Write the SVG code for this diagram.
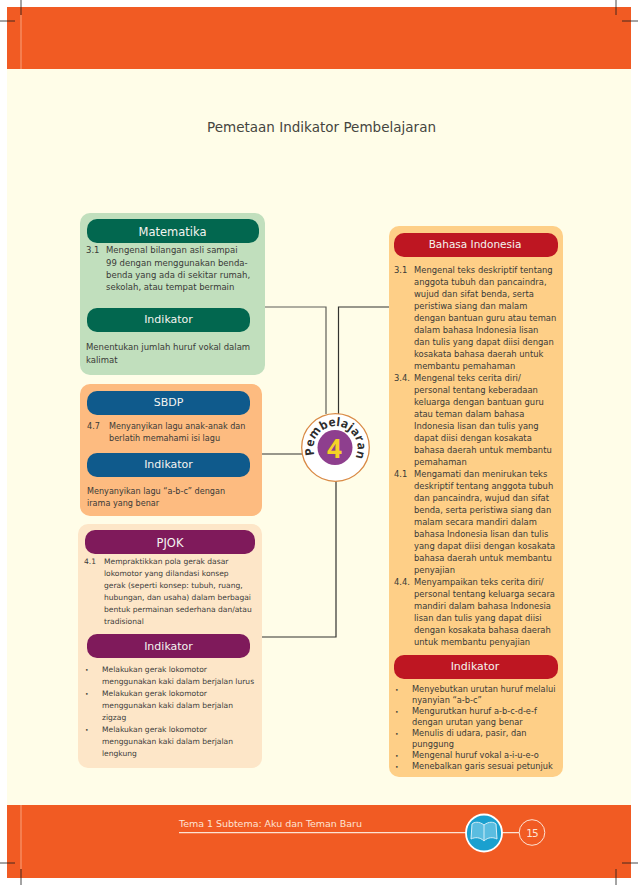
<svg xmlns="http://www.w3.org/2000/svg" width="638" height="885" viewBox="0 0 638 885">
<style>
text{font-family:"DejaVu Sans",sans-serif;fill:#3a3a38}
.b{font-size:8.4px}
.m8{font-size:8.5px}
.d{font-size:8.1px}
.s{font-size:7.55px}
.i{font-size:8.25px}
.u{font-size:6px}
.h{font-size:11px;fill:#f4f4f0;text-anchor:middle}
.c{fill:none;stroke:#5f5f58;stroke-width:1.2}
.k{stroke:#33332f}
.m{fill:none;stroke:#1c1c1c;stroke-width:.8}
</style>
<rect width="638" height="885" fill="#fff"/>
<rect x="7" y="7" width="624" height="871" fill="#fffde8"/>
<g id="bands">
<rect x="7" y="7" width="624" height="62" fill="#f15b23"/>
<rect x="7" y="805" width="624" height="73" fill="#f15b23"/>
<path d="M21 15V69M21 805V869" stroke="#f9a27c" stroke-width="1" fill="none"/>
</g>
<g id="marks">
<path class="m" d="M21 0V15M616 0V15M0 21H15M622 21H638M0 863H15M622 863H638M21 869V885M616 869V885"/>
</g>
<text id="title" x="207" y="132" textLength="229" style="font-size:13.5px;fill:#454540">Pemetaan Indikator Pembelajaran</text>
<g id="connectors">
<path class="c" d="M265 307H326V414"/>
<path class="c k" d="M389 307H338.500V414"/>
<path class="c k" d="M262 454H303"/>
<path class="c k" d="M262 637H336V481"/>
</g>
<g id="matematika">
<rect x="80" y="213" width="185" height="162" rx="10" fill="#c1dfbd"/>
<rect x="87" y="219" width="172" height="24" rx="10" fill="#02674f"/>
<rect x="87" y="308" width="163" height="24" rx="10" fill="#02674f"/>
<text class="h" x="172.500" y="236" style="font-size:11.5px">Matematika</text>
<text class="h" x="168.500" y="323">Indikator</text>
<text class="m8" x="86" y="253">3.1</text>
<text class="m8" x="106" y="253">Mengenal bilangan asli sampai</text>
<text class="m8" x="106" y="265.500">99 dengan menggunakan benda-</text>
<text class="m8" x="106" y="278">benda yang ada di sekitar rumah,</text>
<text class="m8" x="106" y="290">sekolah, atau tempat bermain</text>
<text class="m8" x="86" y="350">Menentukan jumlah huruf vokal dalam</text>
<text class="m8" x="86" y="363">kalimat</text>
</g>
<g id="sbdp">
<rect x="80" y="384" width="182" height="132" rx="10" fill="#fdbb80"/>
<rect x="87" y="391" width="163" height="24" rx="10" fill="#0f5a8c"/>
<rect x="87" y="453" width="163" height="24" rx="10" fill="#0f5a8c"/>
<text class="h" x="168.500" y="406">SBDP</text>
<text class="h" x="168.500" y="468">Indikator</text>
<text class="d" x="87" y="429">4.7</text>
<text class="d" x="109" y="429">Menyanyikan lagu anak-anak dan</text>
<text class="d" x="109" y="441">berlatih memahami isi lagu</text>
<text class="d" x="87" y="494">Menyanyikan lagu “a-b-c” dengan</text>
<text class="d" x="87" y="506">irama yang benar</text>
</g>
<g id="pjok">
<rect x="78" y="524" width="184" height="244" rx="10" fill="#fde6c8"/>
<rect x="85" y="530" width="170" height="24" rx="10" fill="#7f1a5b"/>
<rect x="87" y="634" width="163" height="24" rx="10" fill="#7f1a5b"/>
<text class="h" x="170" y="547" style="font-size:11.5px">PJOK</text>
<text class="h" x="168.500" y="650">Indikator</text>
<text class="s" x="84" y="564">4.1</text>
<text class="s" x="104" y="564">Mempraktikkan pola gerak dasar</text>
<text class="s" x="104" y="576">lokomotor yang dilandasi konsep</text>
<text class="s" x="104" y="588">gerak (seperti konsep: tubuh, ruang,</text>
<text class="s" x="104" y="600">hubungan, dan usaha) dalam berbagai</text>
<text class="s" x="104" y="612">bentuk permainan sederhana dan/atau</text>
<text class="s" x="104" y="624">tradisional</text>
<text class="u" x="85" y="672">•</text>
<text class="s" x="102" y="672">Melakukan gerak lokomotor</text>
<text class="s" x="102" y="684">menggunakan kaki dalam berjalan lurus</text>
<text class="u" x="85" y="696">•</text>
<text class="s" x="102" y="696">Melakukan gerak lokomotor</text>
<text class="s" x="102" y="708">menggunakan kaki dalam berjalan</text>
<text class="s" x="102" y="720">zigzag</text>
<text class="u" x="85" y="732">•</text>
<text class="s" x="102" y="732">Melakukan gerak lokomotor</text>
<text class="s" x="102" y="744">menggunakan kaki dalam berjalan</text>
<text class="s" x="102" y="756">lengkung</text>
</g>
<g id="bahasa">
<rect x="389" y="226" width="174" height="551" rx="10" fill="#fecf87"/>
<rect x="394" y="233" width="164" height="24" rx="10" fill="#be1622"/>
<rect x="394" y="655" width="164" height="24" rx="10" fill="#be1622"/>
<text class="h" x="475" y="248" style="font-size:10.500px">Bahasa Indonesia</text>
<text class="h" x="475" y="670">Indikator</text>
<text class="b" x="394" y="273.300">3.1</text>
<text class="b" x="414" y="273.300">Mengenal teks deskriptif tentang</text>
<text class="b" x="414" y="285.300">anggota tubuh dan pancaindra,</text>
<text class="b" x="414" y="297.300">wujud dan sifat benda, serta</text>
<text class="b" x="414" y="309.300">peristiwa siang dan malam</text>
<text class="b" x="414" y="321.300">dengan bantuan guru atau teman</text>
<text class="b" x="414" y="333.300">dalam bahasa Indonesia lisan</text>
<text class="b" x="414" y="345.300">dan tulis yang dapat diisi dengan</text>
<text class="b" x="414" y="357.300">kosakata bahasa daerah untuk</text>
<text class="b" x="414" y="369.300">membantu pemahaman</text>
<text class="b" x="394" y="381.300">3.4.</text>
<text class="b" x="414" y="381.300">Mengenal teks cerita diri/</text>
<text class="b" x="414" y="393.300">personal tentang keberadaan</text>
<text class="b" x="414" y="405.300">keluarga dengan bantuan guru</text>
<text class="b" x="414" y="417.300">atau teman dalam bahasa</text>
<text class="b" x="414" y="429.300">Indonesia lisan dan tulis yang</text>
<text class="b" x="414" y="441.300">dapat diisi dengan kosakata</text>
<text class="b" x="414" y="453.300">bahasa daerah untuk membantu</text>
<text class="b" x="414" y="465.300">pemahaman</text>
<text class="b" x="394" y="477.300">4.1</text>
<text class="b" x="414" y="477.300">Mengamati dan menirukan teks</text>
<text class="b" x="414" y="489.300">deskriptif tentang anggota tubuh</text>
<text class="b" x="414" y="501.300">dan pancaindra, wujud dan sifat</text>
<text class="b" x="414" y="513.300">benda, serta peristiwa siang dan</text>
<text class="b" x="414" y="525.300">malam secara mandiri dalam</text>
<text class="b" x="414" y="537.300">bahasa Indonesia lisan dan tulis</text>
<text class="b" x="414" y="549.300">yang dapat diisi dengan kosakata</text>
<text class="b" x="414" y="561.300">bahasa daerah untuk membantu</text>
<text class="b" x="414" y="573.300">penyajian</text>
<text class="b" x="394" y="585.300">4.4.</text>
<text class="b" x="414" y="585.300">Menyampaikan teks cerita diri/</text>
<text class="b" x="414" y="597.300">personal tentang keluarga secara</text>
<text class="b" x="414" y="609.300">mandiri dalam bahasa Indonesia</text>
<text class="b" x="414" y="621.300">lisan dan tulis yang dapat diisi</text>
<text class="b" x="414" y="633.300">dengan kosakata bahasa daerah</text>
<text class="b" x="414" y="645.300">untuk membantu penyajian</text>
<text class="u" x="395" y="692">•</text>
<text class="i" x="412" y="692">Menyebutkan urutan huruf melalui</text>
<text class="i" x="412" y="703">nyanyian “a-b-c”</text>
<text class="u" x="395" y="714">•</text>
<text class="i" x="412" y="714">Mengurutkan huruf a-b-c-d-e-f</text>
<text class="i" x="412" y="724.500">dengan urutan yang benar</text>
<text class="u" x="395" y="735.500">•</text>
<text class="i" x="412" y="735.500">Menulis di udara, pasir, dan</text>
<text class="i" x="412" y="746.500">punggung</text>
<text class="u" x="395" y="757.500">•</text>
<text class="i" x="412" y="757.500">Mengenal huruf vokal a-i-u-e-o</text>
<text class="u" x="395" y="768.500">•</text>
<text class="i" x="412" y="768.500">Menebalkan garis sesuai petunjuk</text>
</g>
<g id="pembelajaran">
<circle cx="335.500" cy="447.500" r="33.800" fill="#fff" stroke="#d98a45" stroke-width="1.300"/>
<circle cx="335" cy="447.500" r="17.500" fill="#8e3f8e"/>
<path id="arc" d="M314.600 455A22 22 0 1 1 356.400 455" fill="none"/>
<text style="font-size:12px;font-weight:bold;fill:#2c2c2c;font-family:'Open Sans','DejaVu Sans',sans-serif" letter-spacing=".2"><textPath href="#arc">Pembelajaran</textPath></text>
<text x="334.500" y="458" text-anchor="middle" style="font-size:26px;font-weight:bold;fill:#f5d327;font-family:'Open Sans','DejaVu Sans',sans-serif">4</text>
</g>
<g id="footer">
<text x="179" y="827" textLength="183" style="font-size:9.500px;fill:#fde3d4">Tema 1 Subtema: Aku dan Teman Baru</text>
<path d="M179 832.700H520" stroke="#fde3d4" stroke-width="1.300" fill="none"/>
<ellipse cx="484" cy="833" rx="18" ry="18.500" fill="#1aa0cf" stroke="#fff" stroke-width="1.800"/>
<path d="M484 825C479 821 474 822 472 824L471 839C475 837 480 837 484 841C488 837 493 837 497 839L496 824C494 822 489 821 484 825ZM484 825V841" fill="#5bbde0" stroke="#d3eef8" stroke-width="1"/>
<circle cx="532" cy="832.500" r="12.800" fill="#f15b23" stroke="#fde3d4" stroke-width="1"/>
<text x="532" y="836.500" text-anchor="middle" style="font-size:10.500px;fill:#fde3d4" letter-spacing="-1">15</text>
</g>
</svg>
